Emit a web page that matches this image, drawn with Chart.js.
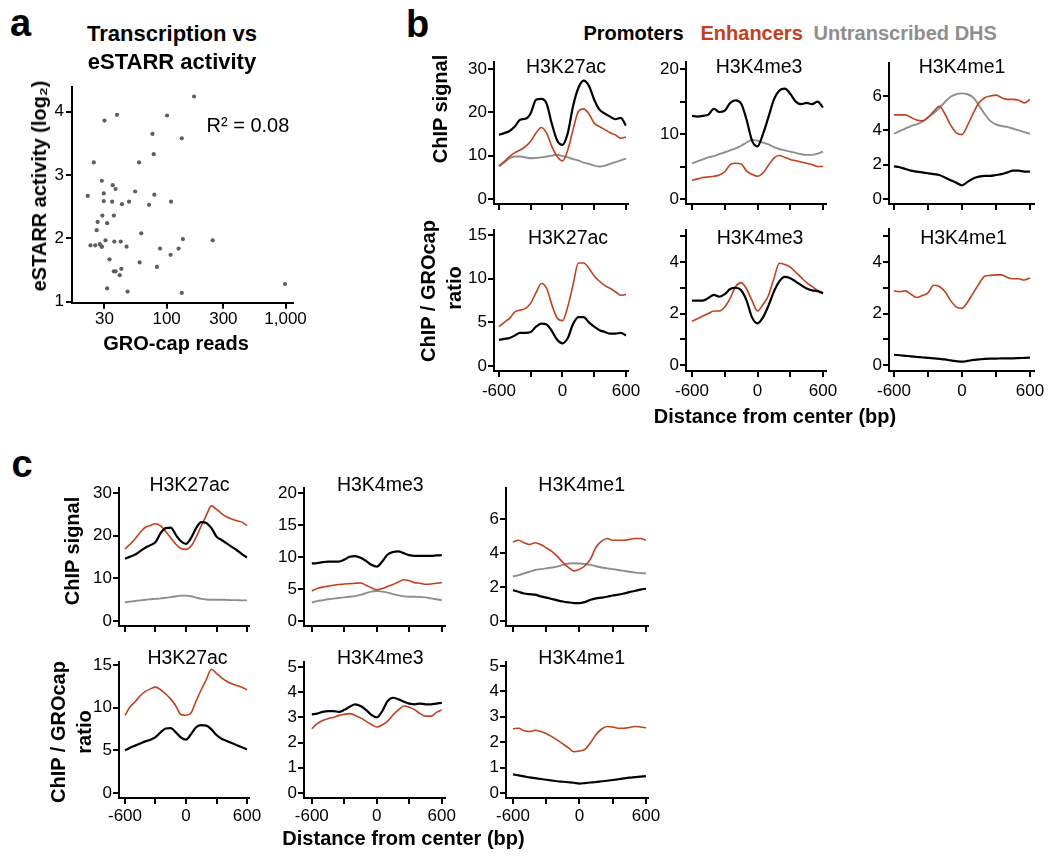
<!DOCTYPE html>
<html><head><meta charset="utf-8">
<script src="https://cdn.jsdelivr.net/npm/chart.js@4.4.1/dist/chart.umd.min.js"></script>
<style>
html,body{margin:0;padding:0;background:#fff;}
#root{position:relative;width:1050px;height:860px;overflow:hidden;background:#fff;font-family:"Liberation Sans",Arial,sans-serif;color:#000;}
canvas{position:absolute;}
.t{position:absolute;white-space:nowrap;line-height:1;}
</style></head><body><div id="root"></div>
<script>
const FONT = '"Liberation Sans", Arial, sans-serif';
const RED = '#C3401E', GRAY = '#8E8E8E', BLACK = '#000000';

// ---------- Panel a data ----------
const groCapReads = [21.7,24.4,30.0,38.2,28.5,29.6,29.6,28.8,26.3,25.8,31.6,35.2,37.2,34.8,36.0,42.1,48.3,54.4,58.6,71.1,61.2,59.3,76.0,77.9,78.8,82.8,88.0,100.8,109,108,134,126,137,134,170,244,990,22.9,25.1,27.4,28.5,28.4,30.6,36.3,41.1,46.0,33.1,36.0,37.2,41.6,40.3,31.6,46.9];
const estarrActivity = [2.67,3.20,3.86,3.95,2.91,2.71,2.59,2.36,2.26,2.13,2.24,2.84,2.78,2.58,2.36,2.54,2.58,2.74,3.20,2.53,2.08,1.62,3.65,3.33,2.69,1.55,1.84,3.94,2.58,1.74,3.58,1.84,1.99,1.14,4.24,1.97,1.28,1.89,1.89,1.91,1.87,1.87,1.97,1.95,1.95,1.87,1.67,1.48,1.48,1.52,1.42,1.21,1.16];
const groCapTicks = [30, 100, 300, 1000];
const groCapTickLabels = ['30', '100', '300', '1,000'];
const estarrTicks = [1, 2, 3, 4];
const estarrTickLabels = ['1', '2', '3', '4'];

// ---------- Profile data (distance from center, bp) ----------
const distanceBp = [-600,-550,-500,-450,-400,-350,-300,-250,-200,-150,-100,-50,0,50,100,150,200,250,300,350,400,450,500,550,600];
const distanceTicks = [-600, -300, 0, 300, 600];
const distanceTickLabels = ['-600', '', '0', '', '600'];

// Panel b, ChIP signal
const bSigK27acProm = [14.8,15.2,15.7,16.7,18.3,18.5,19.8,22.9,23.1,22.0,17.3,13.5,12.5,15.2,21.4,25.6,27.3,26.1,22.9,20.6,19.7,19.0,18.4,18.7,16.9];
const bSigK27acEnh  = [7.7,8.6,9.8,10.7,11.3,12.1,13.3,15.2,16.5,15.2,12.1,9.8,8.8,11.3,16.0,20.2,20.8,19.6,17.5,16.7,16.0,15.3,14.8,14.0,14.3];
const bSigK27acDhs  = [7.5,8.4,9.4,9.8,9.8,9.6,9.4,9.5,9.6,9.8,10.0,10.2,9.9,9.6,9.2,8.9,8.4,8.1,7.7,7.5,7.7,8.1,8.5,8.9,9.3];
const bSigK4me3Prom = [12.8,12.7,12.8,13.0,13.9,13.4,13.6,14.8,15.2,14.7,12.2,9.0,8.1,10.0,12.6,15.3,16.7,17.0,16.2,15.0,14.6,14.8,14.6,15.0,14.1];
const bSigK4me3Enh  = [2.9,3.1,3.3,3.4,3.5,3.7,4.2,5.3,5.5,5.4,4.3,3.8,3.5,4.0,5.2,6.3,6.7,6.4,6.1,5.9,5.7,5.5,5.3,5.0,5.0];
const bSigK4me3Dhs  = [5.5,5.8,6.1,6.4,6.6,6.9,7.2,7.5,7.8,8.2,8.7,9.1,9.0,8.7,8.4,8.0,7.7,7.5,7.3,7.1,6.9,6.8,6.8,7.0,7.3];
const bSigK4me1Prom = [1.9,1.85,1.75,1.65,1.6,1.55,1.5,1.45,1.4,1.25,1.1,0.95,0.8,1.0,1.2,1.3,1.35,1.35,1.4,1.45,1.55,1.65,1.65,1.6,1.6];
const bSigK4me1Enh  = [4.9,4.9,4.9,4.75,4.6,4.55,4.75,5.1,5.4,4.95,4.3,3.85,3.75,4.3,5.0,5.6,5.9,6.0,6.05,5.9,5.8,5.8,5.75,5.6,5.8];
const bSigK4me1Dhs  = [3.8,3.95,4.1,4.25,4.35,4.5,4.75,5.0,5.3,5.65,5.95,6.1,6.15,6.1,5.9,5.45,4.95,4.55,4.35,4.25,4.2,4.1,4.0,3.9,3.8];
// Panel b, ChIP / GROcap ratio
const bRatK27acProm = [3.0,3.1,3.2,3.5,3.8,3.8,3.9,4.5,4.85,4.75,4.0,3.0,2.6,3.2,4.8,5.6,5.6,5.0,4.5,4.1,3.9,3.7,3.7,3.8,3.5];
const bRatK27acEnh  = [4.5,5.0,5.45,6.2,6.4,6.6,7.2,8.4,9.45,8.9,7.0,5.5,5.2,6.8,9.3,11.8,11.8,11.2,10.3,9.7,9.2,8.9,8.5,8.1,8.2];
const bRatK4me3Prom = [2.5,2.5,2.5,2.6,2.72,2.65,2.75,2.95,3.0,2.9,2.5,1.85,1.62,1.85,2.3,2.85,3.25,3.42,3.37,3.24,3.1,2.97,2.9,2.87,2.78];
const bRatK4me3Enh  = [1.7,1.8,1.9,2.0,2.1,2.1,2.25,2.6,3.05,3.2,2.95,2.5,2.1,2.35,2.7,3.35,3.95,3.9,3.8,3.6,3.4,3.2,3.05,2.9,2.8];
const bRatK4me1Prom = [0.4,0.38,0.36,0.34,0.32,0.3,0.28,0.26,0.24,0.22,0.18,0.15,0.13,0.16,0.2,0.22,0.24,0.25,0.25,0.26,0.26,0.26,0.27,0.28,0.29];
const bRatK4me1Enh  = [2.88,2.85,2.88,2.75,2.62,2.7,2.8,3.1,3.05,2.85,2.5,2.25,2.2,2.45,2.8,3.15,3.45,3.48,3.5,3.5,3.4,3.35,3.35,3.3,3.38];

// Panel c, ChIP signal
const cSigK27acProm = [14.6,15.1,15.6,16.4,17.2,17.8,18.5,20.6,21.8,21.9,20.2,18.7,18.1,19.5,21.8,23.2,23.0,21.8,19.8,19.0,18.2,17.4,16.6,15.7,14.9];
const cSigK27acEnh  = [16.9,18.0,19.3,20.8,22.0,22.4,22.8,22.3,21.0,19.5,18.0,17.0,16.8,17.6,19.7,22.3,24.8,27.0,26.2,25.2,24.4,23.9,23.5,23.2,22.4];
const cSigK27acDhs  = [4.4,4.55,4.7,4.85,5.0,5.1,5.2,5.3,5.45,5.6,5.8,5.95,5.95,5.8,5.5,5.2,5.05,5.0,5.0,5.0,4.95,4.9,4.9,4.85,4.85];
const cSigK4me3Prom = [9.0,9.05,9.2,9.3,9.3,9.3,9.6,10.05,10.15,9.9,9.4,8.8,8.5,9.3,10.4,10.8,10.9,10.6,10.3,10.2,10.2,10.2,10.2,10.25,10.3];
const cSigK4me3Enh  = [4.7,5.1,5.3,5.45,5.6,5.7,5.8,5.85,5.9,5.95,5.6,5.2,4.9,5.1,5.4,5.7,6.1,6.45,6.3,6.0,5.9,5.75,5.8,5.9,6.0];
const cSigK4me3Dhs  = [2.9,3.1,3.25,3.4,3.5,3.6,3.7,3.8,3.9,4.1,4.35,4.6,4.7,4.6,4.45,4.2,4.0,3.85,3.8,3.8,3.75,3.7,3.55,3.4,3.25];
const cSigK4me1Prom = [1.82,1.72,1.62,1.58,1.55,1.45,1.38,1.3,1.22,1.15,1.1,1.06,1.05,1.12,1.25,1.33,1.38,1.43,1.5,1.55,1.62,1.7,1.77,1.85,1.9];
const cSigK4me1Enh  = [4.65,4.75,4.6,4.5,4.6,4.5,4.3,4.1,3.8,3.45,3.15,2.95,3.05,3.25,3.65,4.35,4.7,4.85,4.75,4.75,4.75,4.8,4.85,4.85,4.75];
const cSigK4me1Dhs  = [2.62,2.7,2.8,2.9,3.0,3.05,3.1,3.15,3.2,3.3,3.38,3.4,3.38,3.35,3.3,3.22,3.15,3.1,3.05,3.0,2.95,2.9,2.85,2.82,2.8];
// Panel c, ChIP / GROcap ratio
const cRatK27acProm = [5.0,5.3,5.55,5.8,6.05,6.25,6.55,7.1,7.55,7.6,7.1,6.5,6.25,6.9,7.7,7.95,7.9,7.45,6.8,6.35,6.1,5.85,5.6,5.35,5.1];
const cRatK27acEnh  = [9.1,10.1,10.7,11.4,11.9,12.2,12.4,12.1,11.6,11.0,10.2,9.2,9.1,9.4,10.8,12.1,13.3,14.5,14.0,13.5,13.1,12.8,12.6,12.4,12.1];
const cRatK4me3Prom = [3.12,3.15,3.22,3.25,3.25,3.22,3.3,3.42,3.52,3.45,3.3,3.1,3.0,3.25,3.65,3.78,3.72,3.62,3.55,3.52,3.55,3.52,3.52,3.55,3.58];
const cRatK4me3Enh  = [2.55,2.75,2.88,2.95,3.0,3.08,3.12,3.15,3.08,2.98,2.85,2.72,2.62,2.7,2.85,3.1,3.3,3.45,3.4,3.3,3.15,3.05,3.05,3.2,3.3];
const cRatK4me1Prom = [0.73,0.69,0.65,0.61,0.58,0.55,0.52,0.49,0.46,0.44,0.42,0.4,0.37,0.39,0.41,0.43,0.46,0.48,0.51,0.54,0.57,0.6,0.62,0.64,0.66];
const cRatK4me1Enh  = [2.53,2.55,2.45,2.42,2.47,2.42,2.34,2.22,2.08,1.93,1.78,1.62,1.65,1.72,1.98,2.3,2.52,2.62,2.6,2.55,2.55,2.58,2.62,2.6,2.57];

// y-axis tick sets
const ticks30 = [0,10,20,30], labels30 = ['0','10','20','30'];
const ticks20 = [0,5,10,15,20], labels20sparse = ['0','','10','','20'], labels20 = ['0','5','10','15','20'];
const ticks6 = [0,2,4,6], labels6 = ['0','2','4','6'];
const ticks15 = [0,5,10,15], labels15 = ['0','5','10','15'];
const ticks5 = [0,1,2,3,4,5], labels5sparse = ['0','','2','','4',''], labels5 = ['0','1','2','3','4','5'];

// ---------- helpers ----------
const root = document.getElementById('root');

function addText(str, o) {
  const d = document.createElement('div');
  d.className = 't';
  d.textContent = str;
  d.style.fontSize = o.size + 'px';
  d.style.fontWeight = o.bold ? 'bold' : 'normal';
  d.style.color = o.color || '#000';
  if (o.rotate) {
    d.style.left = o.cx + 'px';
    d.style.top = o.cy + 'px';
    d.style.transform = 'translate(-50%,-50%) rotate(-90deg)';
  } else {
    d.style.top = (o.baseline - 0.8465 * o.size) + 'px';
    d.style.left = o.x + 'px';
    if (o.align === 'center') d.style.transform = 'translateX(-50%)';
  }
  root.appendChild(d);
}

function axisCommon(tickLen) {
  return {
    grid: { display: true, drawOnChartArea: false, drawTicks: true, tickLength: tickLen, color: '#000', lineWidth: 2 },
    border: { display: true, color: '#000', width: 2 }
  };
}

function makeLineChart(spec) {
  const LW = 50, PT = 14, XH = 36;
  const plotW = (spec.xmax - spec.xmin) * spec.ppb;
  const plotH = spec.bottom - spec.top;
  const W = Math.ceil(LW + plotW + 26);
  const H = Math.ceil(PT + plotH + XH + 2);
  const PR = W - LW - plotW;
  const PB = H - PT - plotH - XH;
  const c = document.createElement('canvas');
  c.width = W; c.height = H;
  c.style.left = (spec.left - LW) + 'px';
  c.style.top = (spec.top - PT) + 'px';
  root.appendChild(c);
  const datasets = spec.series.map(s => ({
    data: distanceBp.map((x, i) => ({ x: x, y: s.values[i] })),
    borderColor: s.color, borderWidth: s.width, pointRadius: 0, fill: false,
    cubicInterpolationMode: 'monotone'
  }));
  new Chart(c, {
    type: 'line',
    data: { datasets },
    options: {
      responsive: false, animation: false, devicePixelRatio: 1,
      layout: { padding: { left: 0, top: PT, right: PR, bottom: PB } },
      plugins: { legend: { display: false }, tooltip: { enabled: false }, title: { display: false } },
      scales: {
        x: Object.assign({
          type: 'linear', min: spec.xmin, max: spec.xmax,
          afterFit: s => { s.height = XH; },
          afterBuildTicks: s => { s.ticks = distanceTicks.map(v => ({ value: v })); },
          ticks: { color: '#000', font: { family: FONT, size: 17 }, padding: spec.xPad, maxRotation: 0, autoSkip: false,
            callback: v => spec.xLabels ? distanceTickLabels[distanceTicks.indexOf(v)] : '' }
        }, axisCommon(6)),
        y: Object.assign({
          type: 'linear', min: spec.ymin, max: spec.ymax,
          afterFit: s => { s.width = LW; },
          afterBuildTicks: s => { s.ticks = spec.yTicks.map(v => ({ value: v })); },
          ticks: { color: '#000', font: { family: FONT, size: 17 }, padding: 1, autoSkip: false,
            callback: v => spec.yLabels[spec.yTicks.indexOf(v)] }
        }, axisCommon(6))
      }
    }
  });
}

function S(values, color) {
  const w = color === BLACK ? 2.2 : (color === RED ? 1.6 : 1.9);
  return { values, color, width: w };
}

// ---------- Panel a: scatter ----------
(function () {
  const LW = 50, PT = 14, XH = 34;
  const left = 72, top = 87, right = 293, bottom = 302.7;
  const plotW = right - left, plotH = bottom - top;
  const W = Math.ceil(LW + plotW + 26), H = Math.ceil(PT + plotH + XH + 2);
  const c = document.createElement('canvas');
  c.width = W; c.height = H;
  c.style.left = (left - LW) + 'px'; c.style.top = (top - PT) + 'px';
  root.appendChild(c);
  new Chart(c, {
    type: 'scatter',
    data: { datasets: [{ data: groCapReads.map((x, i) => ({ x: x, y: estarrActivity[i] })),
      backgroundColor: '#5e5e5e', borderWidth: 0, pointRadius: 2.1 }] },
    options: {
      responsive: false, animation: false, devicePixelRatio: 1,
      layout: { padding: { left: 0, top: PT, right: W - LW - plotW, bottom: H - PT - plotH - XH } },
      plugins: { legend: { display: false }, tooltip: { enabled: false } },
      scales: {
        x: Object.assign({
          type: 'logarithmic', min: 16, max: 1155,
          afterFit: s => { s.height = XH; },
          afterBuildTicks: s => { s.ticks = groCapTicks.map(v => ({ value: v })); },
          ticks: { color: '#000', font: { family: FONT, size: 17 }, padding: 0, maxRotation: 0, autoSkip: false,
            callback: v => groCapTickLabels[groCapTicks.indexOf(v)] }
        }, axisCommon(6)),
        y: Object.assign({
          type: 'linear', min: 0.985, max: 4.39,
          afterFit: s => { s.width = LW; },
          afterBuildTicks: s => { s.ticks = estarrTicks.map(v => ({ value: v })); },
          ticks: { color: '#000', font: { family: FONT, size: 17 }, padding: 2, autoSkip: false,
            callback: v => estarrTickLabels[estarrTicks.indexOf(v)] }
        }, axisCommon(6))
      }
    }
  });
})();

// ---------- Panel b ----------
const bX1 = { xmin: -647, xmax: 619, ppb: 0.10583 };
const bX2 = { xmin: -655, xmax: 627, ppb: 0.10917 };
const bX3 = { xmin: -644, xmax: 635, ppb: 0.1133 };
makeLineChart(Object.assign({ left: 494, top: 62, bottom: 204, ymin: -1.15, ymax: 31.6, yTicks: ticks30, yLabels: labels30, xLabels: false, xPad: 4,
  series: [S(bSigK27acProm, BLACK), S(bSigK27acEnh, RED), S(bSigK27acDhs, GRAY)] }, bX1));
makeLineChart(Object.assign({ left: 686, top: 62, bottom: 204, ymin: -0.77, ymax: 21.1, yTicks: ticks20, yLabels: labels20sparse, xLabels: false, xPad: 4,
  series: [S(bSigK4me3Prom, BLACK), S(bSigK4me3Enh, RED), S(bSigK4me3Dhs, GRAY)] }, bX2));
makeLineChart(Object.assign({ left: 889, top: 63, bottom: 204, ymin: -0.29, ymax: 7.92, yTicks: ticks6, yLabels: labels6, xLabels: false, xPad: 4,
  series: [S(bSigK4me1Prom, BLACK), S(bSigK4me1Enh, RED), S(bSigK4me1Dhs, GRAY)] }, bX3));
makeLineChart(Object.assign({ left: 494, top: 230, bottom: 371, ymin: -0.57, ymax: 15.57, yTicks: ticks15, yLabels: labels15, xLabels: true, xPad: 4,
  series: [S(bRatK27acProm, BLACK), S(bRatK27acEnh, RED)] }, bX1));
makeLineChart(Object.assign({ left: 686, top: 230, bottom: 371, ymin: -0.23, ymax: 5.24, yTicks: ticks5, yLabels: labels5sparse, xLabels: true, xPad: 4,
  series: [S(bRatK4me3Prom, BLACK), S(bRatK4me3Enh, RED)] }, bX2));
makeLineChart(Object.assign({ left: 889, top: 229, bottom: 371, ymin: -0.23, ymax: 5.28, yTicks: ticks5, yLabels: labels5sparse, xLabels: true, xPad: 4,
  series: [S(bRatK4me1Prom, BLACK), S(bRatK4me1Enh, RED)] }, bX3));

// ---------- Panel c ----------
const cX1 = { xmin: -659, xmax: 620, ppb: 0.10167 };
const cX2 = { xmin: -672, xmax: 628, ppb: 0.10833 };
const cX3 = { xmin: -663, xmax: 618, ppb: 0.1108 };
makeLineChart(Object.assign({ left: 119, top: 488, bottom: 626, ymin: -1.17, ymax: 31.2, yTicks: ticks30, yLabels: labels30, xLabels: false, xPad: 2,
  series: [S(cSigK27acProm, BLACK), S(cSigK27acEnh, RED), S(cSigK27acDhs, GRAY)] }, cX1));
makeLineChart(Object.assign({ left: 304, top: 488, bottom: 626, ymin: -0.78, ymax: 20.8, yTicks: ticks20, yLabels: labels20, xLabels: false, xPad: 2,
  series: [S(cSigK4me3Prom, BLACK), S(cSigK4me3Enh, RED), S(cSigK4me3Dhs, GRAY)] }, cX2));
makeLineChart(Object.assign({ left: 506, top: 488, bottom: 626, ymin: -0.29, ymax: 7.82, yTicks: ticks6, yLabels: labels6, xLabels: false, xPad: 2,
  series: [S(cSigK4me1Prom, BLACK), S(cSigK4me1Enh, RED), S(cSigK4me1Dhs, GRAY)] }, cX3));
makeLineChart(Object.assign({ left: 119, top: 662, bottom: 798, ymin: -0.59, ymax: 15.35, yTicks: ticks15, yLabels: labels15, xLabels: true, xPad: 2,
  series: [S(cRatK27acProm, BLACK), S(cRatK27acEnh, RED)] }, cX1));
makeLineChart(Object.assign({ left: 304, top: 662, bottom: 798, ymin: -0.2, ymax: 5.2, yTicks: ticks5, yLabels: labels5, xLabels: true, xPad: 2,
  series: [S(cRatK4me3Prom, BLACK), S(cRatK4me3Enh, RED)] }, cX2));
makeLineChart(Object.assign({ left: 506, top: 662, bottom: 798, ymin: -0.2, ymax: 5.16, yTicks: ticks5, yLabels: labels5, xLabels: true, xPad: 2,
  series: [S(cRatK4me1Prom, BLACK), S(cRatK4me1Enh, RED)] }, cX3));

// ---------- Text ----------
// panel a
addText('a', { x: 10, baseline: 36, size: 38, bold: true });
addText('Transcription vs', { x: 172, baseline: 42, size: 22, bold: true, align: 'center' });
addText('eSTARR activity', { x: 172, baseline: 69.5, size: 22, bold: true, align: 'center' });
addText('R\u00B2 = 0.08', { x: 206.5, baseline: 131.7, size: 20 });
addText('eSTARR activity (log\u2082)', { rotate: true, cx: 39, cy: 186, size: 20, bold: true });
addText('GRO-cap reads', { x: 176, baseline: 349.5, size: 20, bold: true, align: 'center' });
// panel b
addText('b', { x: 406, baseline: 36.7, size: 38, bold: true });
addText('Promoters', { x: 583.5, baseline: 40, size: 20, bold: true, color: BLACK });
addText('Enhancers', { x: 700.5, baseline: 40, size: 20, bold: true, color: RED });
addText('Untranscribed DHS', { x: 813.5, baseline: 40, size: 20, bold: true, color: GRAY });
addText('ChIP signal', { rotate: true, cx: 439.7, cy: 109, size: 20, bold: true });
addText('ChIP / GROcap', { rotate: true, cx: 428, cy: 290.5, size: 20, bold: true });
addText('ratio', { rotate: true, cx: 453.8, cy: 288, size: 20, bold: true });
addText('Distance from center (bp)', { x: 775, baseline: 423, size: 20, bold: true, align: 'center' });
[['H3K27ac', 566, 74], ['H3K4me3', 759, 74], ['H3K4me1', 962, 74],
 ['H3K27ac', 568, 245], ['H3K4me3', 760, 245], ['H3K4me1', 963.5, 245]].forEach(t =>
  addText(t[0], { x: t[1], baseline: t[2], size: 19.5, align: 'center' }));
// panel c
addText('c', { x: 11.5, baseline: 477, size: 38, bold: true });
addText('ChIP signal', { rotate: true, cx: 72.4, cy: 551, size: 20, bold: true });
addText('ChIP / GROcap', { rotate: true, cx: 57.5, cy: 732, size: 20, bold: true });
addText('ratio', { rotate: true, cx: 83.8, cy: 731.7, size: 20, bold: true });
addText('Distance from center (bp)', { x: 403.5, baseline: 845, size: 20, bold: true, align: 'center' });
[['H3K27ac', 189.5, 491.7], ['H3K4me3', 380.3, 491.7], ['H3K4me1', 581.7, 491.7],
 ['H3K27ac', 187.5, 665], ['H3K4me3', 380.3, 665], ['H3K4me1', 581.7, 665]].forEach(t =>
  addText(t[0], { x: t[1], baseline: t[2], size: 19.5, align: 'center' }));
</script>
</body></html>
